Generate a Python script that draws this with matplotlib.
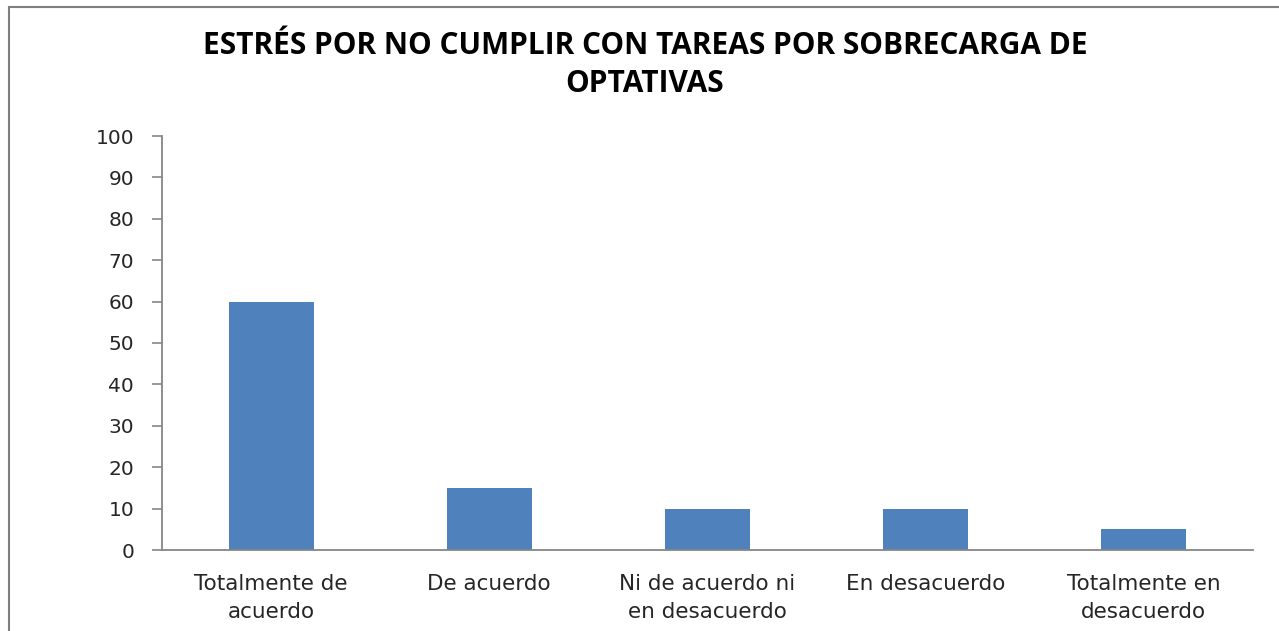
import numpy as np
import matplotlib.pyplot as plt
from matplotlib.patches import Rectangle

categories = ['Totalmente de\nacuerdo', 'De acuerdo', 'Ni de acuerdo ni\nen desacuerdo',
              'En desacuerdo', 'Totalmente en\ndesacuerdo']
values = [60, 15, 10, 10, 5]
yticks = np.arange(0, 101, 10)
title = 'ESTRÉS POR NO CUMPLIR CON TAREAS POR SOBRECARGA DE\nOPTATIVAS'

fig = plt.figure(figsize=(12.79, 6.31), dpi=100)
ax = fig.add_axes([162/1279, 1 - 550/631, (1253 - 162)/1279, (550 - 136)/631])

x = np.arange(len(categories))
ax.bar(x, values, width=0.39, color='#4F81BD')

ax.set_xlim(-0.5, len(categories) - 0.5)
ax.set_ylim(0, 100)
ax.set_yticks(yticks)
ax.set_xticks(x)
ax.set_xticklabels(categories, fontsize=15.5, color='#262626', linespacing=1.55)
ax.tick_params(axis='x', length=0, pad=17)
ax.tick_params(axis='y', length=7, width=1.2, color='#868686', labelsize=14.5,
               labelcolor='#262626', pad=13)

for s in ['top', 'right']:
    ax.spines[s].set_visible(False)
for s in ['left', 'bottom']:
    ax.spines[s].set_color('#868686')
    ax.spines[s].set_linewidth(1.3)

fig.text(645/1279, 1 - 65/631, title, ha='center', va='center', fontsize=21.5,
         fontweight='bold', family='Open Sans', linespacing=1.35)

# outer chart frame
fig.patches.append(Rectangle((9/1279, -0.1), 1.1, 1.1 - 7/631, transform=fig.transFigure,
                             fill=False, edgecolor='#7f7f7f', linewidth=1.5))

fig.savefig('out.png', dpi=100)
